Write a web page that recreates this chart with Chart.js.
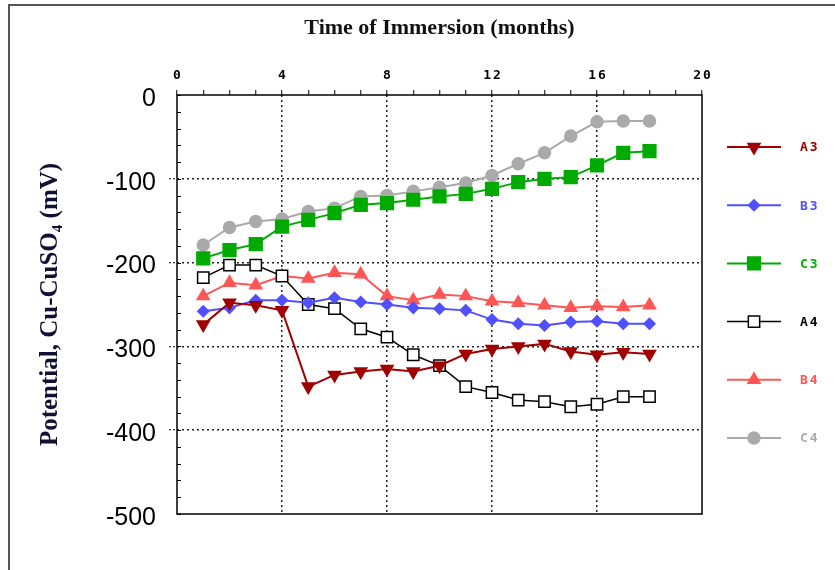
<!DOCTYPE html>
<html>
<head>
<meta charset="utf-8">
<script src="https://cdn.jsdelivr.net/npm/chart.js@4.4.1/dist/chart.umd.min.js"></script>
<style>
  html, body { margin: 0; padding: 0; background: #fff; }
  #wrap { position: relative; width: 835px; height: 570px; overflow: hidden; }
  #frame { position: absolute; left: 8px; top: 4px; width: 900px; height: 700px;
           border-left: 2px solid #555; border-top: 2px solid #555; pointer-events: none; }
  canvas { position: absolute; left: 0; top: 0; }
</style>
</head>
<body>
<div id="wrap">
  <canvas id="c" width="835" height="570"></canvas>
  <div id="frame"></div>
</div>
<script>
// ---- data ----
const months = [1,2,3,4,5,6,7,8,9,10,11,12,13,14,15,16,17,18];
const A3 = [-274,-248,-251,-257,-348,-334,-330,-327,-330,-323,-309,-303,-300,-297,-306,-310,-307,-309];
const B3 = [-258,-254,-245,-245,-248,-242,-247,-250,-254,-255,-257,-268,-273,-275,-271,-270,-273,-273];
const C3 = [-195,-185,-178,-157,-149,-141,-131,-129,-125,-121,-118,-112,-104,-100,-98,-84,-69,-67];
const A4 = [-218,-203,-203,-216,-250,-255,-279,-289,-310,-323,-348,-355,-364,-366,-372,-369,-360,-360];
const B4 = [-240,-224,-227,-216,-219,-212,-214,-240,-245,-238,-240,-246,-248,-251,-254,-252,-253,-251];
const C4 = [-179,-158,-151,-148,-139,-135,-121,-120,-115,-110,-105,-96,-82,-69,-49,-32,-31,-31];
const seriesNames = ['A3','B3','C3','A4','B4','C4'];
const xTickLabels = ['0','4','8','12','16','20'];
const yTickLabels = ['0','-100','-200','-300','-400','-500'];
const chartTitle = 'Time of Immersion (months)';
const yTitle = 'Potential, Cu-CuSO\u2084 (mV)';

const styles = {
  A3: {color:'#a00000', pointStyle:'triangle', rotation:180, radius:7, fill:'#a00000', width:2},
  B3: {color:'#5050ff', pointStyle:'rectRot', rotation:0, radius:5.5, fill:'#5050ff', width:2},
  C3: {color:'#00aa00', pointStyle:'rect', rotation:0, radius:9, fill:'#00aa00', width:2},
  A4: {color:'#000000', pointStyle:'rect', rotation:0, radius:8, fill:'#ffffff', width:1.5},
  B4: {color:'#ff5555', pointStyle:'triangle', rotation:0, radius:7, fill:'#ff5555', width:2},
  C4: {color:'#aaaaaa', pointStyle:'circle', rotation:0, radius:6, fill:'#aaaaaa', width:2}
};
const values = {A3, B3, C3, A4, B4, C4};

const datasets = seriesNames.map(n => {
  const s = styles[n];
  return {
    label: n,
    data: months.map((m, i) => ({x: m, y: values[n][i]})),
    borderColor: s.color,
    backgroundColor: s.fill,
    borderWidth: s.width,
    pointStyle: s.pointStyle,
    pointRotation: s.rotation,
    pointRadius: s.radius,
    pointHoverRadius: s.radius,
    pointBackgroundColor: s.fill,
    pointBorderColor: s.color,
    pointBorderWidth: 1.5,
    tension: 0,
    fill: false
  };
});

const monoFont = {family: '"DejaVu Sans Mono", monospace', size: 13, weight: 'bold'};
const SPACING = '2px';

const decorPlugin = {
  id: 'decor',
  beforeDatasetsDraw(chart) {
    const {ctx, chartArea: a, scales: {y}} = chart;
    ctx.save();
    ctx.strokeStyle = '#000';
    ctx.lineWidth = 1.5;
    ctx.setLineDash([]);
    ctx.strokeRect(a.left, a.top, a.right - a.left, a.bottom - a.top);
    ctx.lineWidth = 1;
    for (let v = -500; v <= 0; v += 20) {
      const py = Math.round(y.getPixelForValue(v)) + 0.5;
      ctx.beginPath();
      ctx.moveTo(a.left, py);
      ctx.lineTo(a.left + 4, py);
      ctx.stroke();
    }
    ctx.restore();
  },
  afterDatasetsDraw(chart) {
    chart.ctx.letterSpacing = SPACING;
  },
  afterDraw(chart) {
    const ctx = chart.ctx;
    ctx.save();
    ctx.letterSpacing = SPACING;
    const x0 = 727, x1 = 781, xm = 754, xt = 800;
    const y0 = 147, dy = 58.2;
    seriesNames.forEach((n, i) => {
      const s = styles[n];
      const yy = y0 + i * dy;
      ctx.strokeStyle = s.color;
      ctx.lineWidth = s.width;
      ctx.beginPath();
      ctx.moveTo(x0, yy);
      ctx.lineTo(x1, yy);
      ctx.stroke();
      ctx.fillStyle = s.fill;
      ctx.lineWidth = 1.5;
      Chart.helpers.drawPoint(ctx, {pointStyle: s.pointStyle, radius: s.radius, rotation: s.rotation, borderWidth: 1.5}, xm, yy);
      ctx.fillStyle = s.color;
      ctx.font = 'bold 13px "DejaVu Sans Mono", monospace';
      ctx.textAlign = 'left';
      ctx.textBaseline = 'middle';
      ctx.fillText(n, xt, yy + 1);
    });
    ctx.restore();
    ctx.letterSpacing = '0px';
  }
};

new Chart(document.getElementById('c'), {
  type: 'line',
  data: {datasets},
  plugins: [decorPlugin],
  options: {
    responsive: false,
    animation: false,
    layout: {padding: {left: 9, right: 133, top: 0, bottom: 56}},
    plugins: {
      legend: {display: false},
      tooltip: {enabled: false},
      title: {
        display: true,
        fullSize: false,
        text: chartTitle,
        color: '#111',
        font: {family: '"Liberation Serif", "Times New Roman", serif', size: 22, weight: 'bold'},
        padding: {top: 15, bottom: 8.6}
      }
    },
    scales: {
      x: {
        type: 'linear',
        position: 'top',
        min: 0, max: 20,
        afterFit: s => { s.height = 45; },
        border: {display: false, dash: [2, 3]},
        grid: {
          color: c => (c.tick && c.tick.value % 4 === 0 && c.tick.value !== 0 && c.tick.value !== 20) ? '#222' : 'rgba(0,0,0,0)',
          lineWidth: 1.5,
          drawTicks: true,
          tickLength: 5,
          tickColor: '#000',
          tickWidth: 1,
          tickBorderDash: []
        },
        ticks: {
          stepSize: 1,
          autoSkip: false,
          maxRotation: 0,
          padding: 7,
          z: 1,
          labelOffset: 1,
          color: '#000',
          font: monoFont,
          callback: v => (v % 4 === 0 ? xTickLabels[v / 4] : '')
        }
      },
      y: {
        type: 'linear',
        position: 'left',
        min: -500, max: 0,
        afterFit: s => { s.width = 168; },
        border: {display: false, dash: [2, 3]},
        grid: {
          color: c => (c.tick && c.tick.value % 100 === 0 && c.tick.value !== 0 && c.tick.value !== -500) ? '#222' : 'rgba(0,0,0,0)',
          lineWidth: 1.5,
          drawTicks: true,
          tickLength: 8,
          tickColor: c => (c.tick && c.tick.value % 100 === 0 && c.tick.value !== 0 && c.tick.value !== -500) ? '#000' : 'rgba(0,0,0,0)',
          tickWidth: 1,
          tickBorderDash: [2, 2]
        },
        ticks: {
          stepSize: 20,
          autoSkip: false,
          padding: 13,
          labelOffset: 4,
          color: '#000',
          font: {family: '"Liberation Sans", Arial, sans-serif', size: 25},
          callback: v => (Math.round(v) % 100 === 0 ? yTickLabels[Math.round(-v / 100)] : '')
        },
        title: {
          display: true,
          text: yTitle,
          color: '#111133',
          font: {family: '"Liberation Serif", "Times New Roman", serif', size: 25, weight: 'bold'},
          padding: {top: 27, bottom: 0}
        }
      }
    }
  }
});
</script>
</body>
</html>
